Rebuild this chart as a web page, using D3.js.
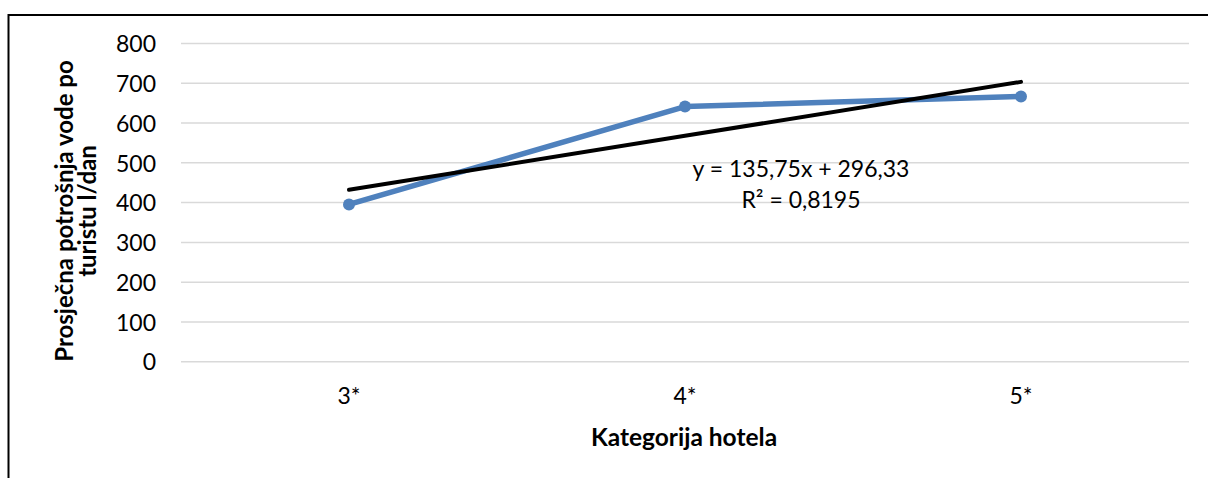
<!DOCTYPE html>
<html><head><meta charset="utf-8">
<script src="https://cdn.jsdelivr.net/npm/d3@7"></script>
<style>
html,body{margin:0;padding:0;background:#fff;}
svg{display:block;}
text{font-family:Lato,"Liberation Sans",sans-serif;fill:#000;}
</style></head>
<body><svg id="c" width="1208" height="478"></svg>
<script>
const categories = ["3*", "4*", "5*"];
const values = [395.3, 641.4, 666.8];
const yTicks = [0, 100, 200, 300, 400, 500, 600, 700, 800];
const yTitle = ["Prosječna potrošnja vode po", "turistu l/dan"];
const xTitle = "Kategorija hotela";
const trendLabel = ["y = 135,75x + 296,33", "R² = 0,8195"];

const svg = d3.select("#c");
const m = {left: 181, right: 1189, top: 43.5, bottom: 361.7};

// outer frame
svg.append("rect").attr("x", 8.5).attr("y", 15).attr("width", 1220).attr("height", 500)
  .attr("fill", "none").attr("stroke", "#000").attr("stroke-width", 2);

const x = d3.scaleBand().domain(categories).range([m.left, m.right]);
const y = d3.scaleLinear().domain([0, 800]).range([m.bottom, m.top]);

// gridlines
svg.append("g").selectAll("line").data(yTicks).join("line")
  .attr("x1", m.left).attr("x2", m.right)
  .attr("y1", d => y(d)).attr("y2", d => y(d))
  .attr("stroke", "#d9d9d9").attr("stroke-width", 1.5);

// y axis labels
const yAxis = d3.axisLeft(y).tickValues(yTicks).tickSize(0).tickPadding(0).tickFormat(d3.format("d"));
const gy = svg.append("g").attr("transform", `translate(156,0)`).call(yAxis);
gy.select(".domain").remove();
gy.selectAll("text").attr("font-size", 23).attr("dy", "0.36em").style("font-family", "Lato, sans-serif").attr("fill", "#000");

// x axis labels
const xAxis = d3.axisBottom(x).tickSize(0).tickPadding(0);
const gx = svg.append("g").attr("transform", `translate(0,${m.bottom})`).call(xAxis);
gx.select(".domain").remove();
gx.selectAll("text").attr("font-size", 23).attr("dy", 0).attr("y", 42).style("font-family", "Lato, sans-serif").attr("fill", "#000");

// axis titles
svg.append("text").attr("x", (m.left + m.right) / 2 - 1).attr("y", 446)
  .attr("text-anchor", "middle").attr("font-size", 24.5).attr("font-weight", "bold").text(xTitle);
const yt = svg.append("text").attr("transform", "translate(0,211) rotate(-90)")
  .attr("text-anchor", "middle").attr("font-size", 24).attr("font-weight", "bold");
yt.selectAll("tspan").data(yTitle).join("tspan")
  .attr("x", 0).attr("y", (d, i) => 73 + i * 23).text(d => d);

// data line
svg.append("path").datum(categories.map((c, i) => ({c, v: values[i]})))
  .attr("fill", "none").attr("stroke", "#4f81bd").attr("stroke-width", 5.5).attr("stroke-linejoin", "round")
  .attr("d", d3.line().x(d => x(d.c) + x.bandwidth() / 2).y(d => y(d.v)));
svg.append("g").selectAll("circle").data(categories.map((c, i) => ({c, v: values[i]}))).join("circle")
  .attr("cx", d => x(d.c) + x.bandwidth() / 2).attr("cy", d => y(d.v)).attr("r", 6)
  .attr("fill", "#4f81bd");

// linear trend (least squares on index 1..n)
const xs = values.map((v, i) => i + 1);
const mx = d3.mean(xs), my = d3.mean(values);
const slope = d3.sum(xs.map((xi, i) => (xi - mx) * (values[i] - my))) / d3.sum(xs.map(xi => (xi - mx) ** 2));
const intercept = my - slope * mx;
svg.append("path").datum(categories.map((c, i) => ({c, v: slope * (i + 1) + intercept})))
  .attr("fill", "none").attr("stroke", "#000").attr("stroke-width", 4).attr("stroke-linecap", "round")
  .attr("d", d3.line().x(d => x(d.c) + x.bandwidth() / 2).y(d => y(d.v)));

// trend label
svg.append("g").selectAll("text").data(trendLabel).join("text")
  .attr("x", 801).attr("y", (d, i) => 177 + i * 31).attr("text-anchor", "middle")
  .attr("font-size", 23).text(d => d);
</script></body></html>
